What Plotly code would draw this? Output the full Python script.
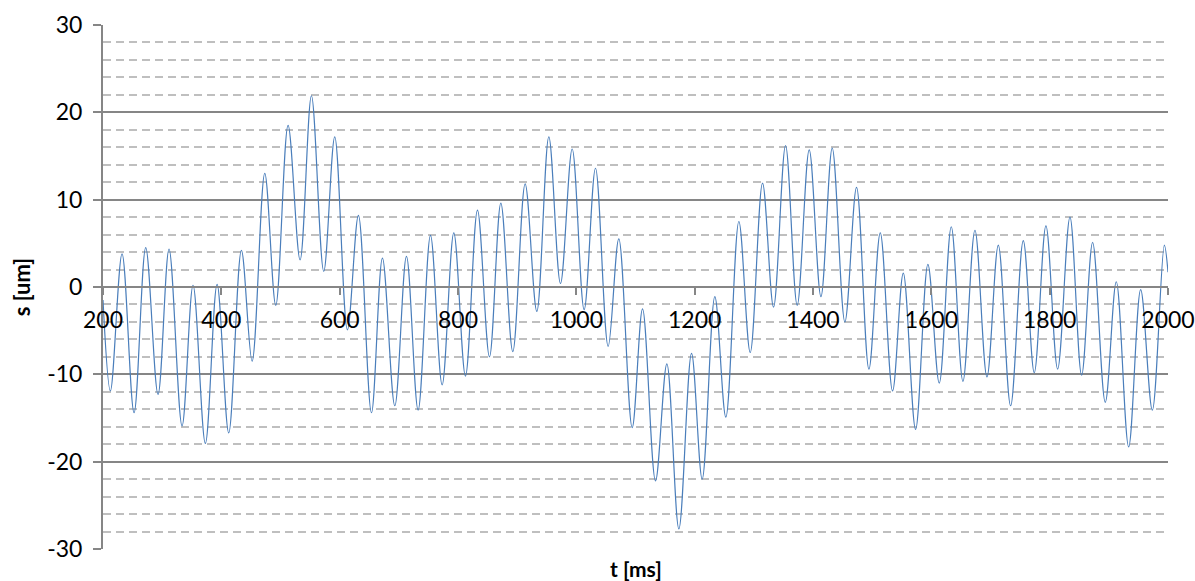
import plotly.graph_objects as go

# Displacement signal: turning points (time in ms, displacement in um)
t_ms = [200, 212.5, 232.2, 252.5, 272.2, 293, 311.6, 333.6, 352.2, 373,
        392.8, 412.5, 433.9, 452, 473.4, 492, 512.8, 533.1, 552.3, 573.1,
        591.7, 613.1, 631.7, 653.7, 672.3, 693.2, 712.9, 732.6, 753.5, 773.2,
        792.9, 812.6, 832.9, 853.2, 872.4, 892.6, 913.5, 933.2, 953.5, 973.2,
        993, 1013.2, 1032.4, 1053.8, 1071.8, 1094.4, 1111.9, 1133.8, 1153, 1173.3,
        1194.7, 1212.7, 1234.1, 1252.7, 1274.7, 1293.9, 1314.7, 1333.3, 1353.6, 1373.3,
        1393.6, 1413.4, 1432.5, 1453.9, 1473.6, 1494.5, 1513.7, 1534.5, 1552.6, 1573.4,
        1594.2, 1613.4, 1633.7, 1653.4, 1673.7, 1694, 1713.2, 1734, 1755.4, 1774,
        1793.7, 1813.5, 1834.3, 1854, 1872.6, 1894, 1912.6, 1933.5, 1953.8, 1973.5,
        1993.8, 2000]

s_um = [-1.5, -11.9, 3.8, -14.4, 4.5, -12.3, 4.35, -15.9, 0.2, -17.9,
        0.3, -16.7, 4.2, -8.5, 13.0, -2.1, 18.5, 3.1, 21.9, 1.8,
        17.2, -4.9, 8.2, -14.4, 3.3, -13.6, 3.5, -14.1, 5.9, -11.2,
        6.2, -10.2, 8.8, -8.0, 9.6, -7.4, 11.8, -2.8, 17.2, 0.4,
        15.8, -2.6, 13.6, -6.8, 5.5, -16.1, -2.5, -22.2, -8.8, -27.7,
        -7.6, -22.0, -1.1, -14.9, 7.5, -7.5, 11.9, -2.3, 16.2, -2.1,
        15.7, -1.1, 15.9, -4.0, 11.4, -9.4, 6.2, -11.9, 1.6, -16.3,
        2.6, -11.0, 6.9, -10.8, 6.5, -10.3, 4.8, -13.6, 5.3, -9.8,
        7.0, -9.4, 8.0, -10.1, 5.1, -13.2, 0.6, -18.3, -0.3, -14.1,
        4.8, 1.7]

x_ticks = [200, 400, 600, 800, 1000, 1200, 1400, 1600, 1800, 2000]
y_ticks = [-30, -20, -10, 0, 10, 20, 30]

FONT = "Lato"
AXIS_GREY = "#868686"
MINOR_GREY = "#bfbfbf"

fig = go.Figure()
fig.add_trace(go.Scatter(
    x=t_ms, y=s_um, mode="lines",
    line=dict(color="#4a7ebb", width=1.2, shape="spline", smoothing=1),
    showlegend=False, hoverinfo="skip",
))

fig.update_layout(
    width=1195, height=581,
    margin=dict(l=103, r=27, t=25, b=32),
    paper_bgcolor="white", plot_bgcolor="white",
    font=dict(family=FONT, size=23, color="black"),
    xaxis=dict(
        range=[200, 2000], tickvals=x_ticks, ticktext=[str(v) for v in x_ticks],
        showgrid=False, zeroline=False, automargin=False,
        showline=True, linecolor=AXIS_GREY, linewidth=2,
        ticks="outside", ticklen=7, tickwidth=2, tickcolor=AXIS_GREY,
        ticklabelstandoff=5,
        anchor="free", position=0.5,
        tickfont=dict(family=FONT, size=23, color="black"),
    ),
    yaxis=dict(
        range=[-30, 30], tickvals=y_ticks, ticktext=[str(v) for v in y_ticks],
        showgrid=True, gridcolor=AXIS_GREY, gridwidth=2,
        zeroline=False, automargin=False,
        showline=True, linecolor=AXIS_GREY, linewidth=2,
        ticks="outside", ticklen=8, tickwidth=2, tickcolor=AXIS_GREY,
        ticklabelstandoff=6,
        tickfont=dict(family=FONT, size=23, color="black"),
        minor=dict(dtick=2, showgrid=True, gridcolor=MINOR_GREY, gridwidth=2,
                   griddash="8px,5px", ticks=""),
        title=dict(text="<b>s [um]</b>", font=dict(family=FONT, size=22), standoff=10),
    ),
    annotations=[dict(
        text="<b>t [ms]</b>", xref="paper", yref="paper", x=0.5, y=-0.038,
        xanchor="center", yanchor="middle", showarrow=False,
        font=dict(family=FONT, size=21, color="black"),
    )],
)

fig.write_html("out.html")
